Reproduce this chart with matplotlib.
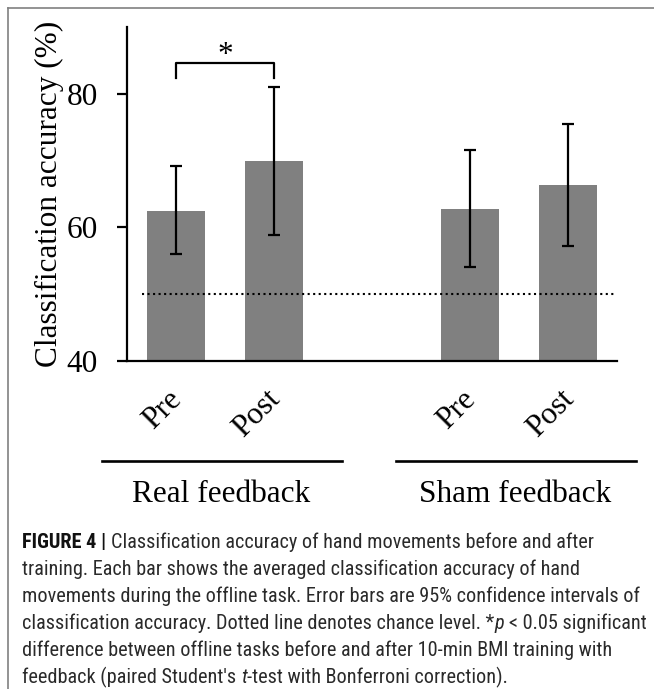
import os
import matplotlib
matplotlib.use('Agg')
import matplotlib.pyplot as plt
import matplotlib.font_manager as fm
from matplotlib.font_manager import FontProperties
from matplotlib.transforms import blended_transform_factory, ScaledTranslation
from matplotlib.lines import Line2D

# ---------------- data ----------------
groups = ['Real feedback', 'Sham feedback']
conditions = ['Pre', 'Post']
means = [62.5, 69.9, 62.8, 66.3]
ci_low = [56.0, 58.8, 54.1, 57.2]
ci_high = [69.2, 81.0, 71.6, 75.4]
chance_level = 50
yticks = [40, 60, 80]
sig_label = '*'
ylabel = 'Classification accuracy (%)'

# caption: each line is a list of (text, style) segments
caption = [
    [('FIGURE 4 | ', 'b'), ('Classification accuracy of hand movements before and after', 'r')],
    [('training. Each bar shows the averaged classification accuracy of hand', 'r')],
    [('movements during the offline task. Error bars are 95% confidence intervals of', 'r')],
    [('classification accuracy. Dotted line denotes chance level. *', 'r'), ('p ', 'i'),
     ('< 0.05 significant', 'r')],
    [('difference between offline tasks before and after 10-min BMI training with', 'r')],
    [("feedback (paired Student's ", 'r'), ('t', 'i'),
     ('-test with Bonferroni correction).', 'r')],
]

# ---------------- fonts ----------------
plt.rcParams['font.family'] = ['Liberation Serif', 'DejaVu Serif']


def wnum(w):
    if isinstance(w, (int, float)):
        return w
    return {'ultralight': 100, 'thin': 100, 'extralight': 200, 'light': 300,
            'normal': 400, 'regular': 400, 'book': 400, 'medium': 500,
            'semibold': 600, 'demibold': 600, 'bold': 700, 'extra bold': 800,
            'heavy': 800, 'black': 900}.get(str(w).lower(), 400)


def rank_of(f):
    n = f.name.lower()
    fn = os.path.basename(f.fname).lower()
    t = (n + ' ' + fn).replace('-', '').replace('_', '')
    if 'mono' in t or 'cjk' in t or 'display' in t:
        return None
    if 'serif' in n and 'sans' not in n:
        return None
    narrow = ('narrow' in t or 'condensed' in t or
              str(f.stretch) in ('condensed', 'semi-condensed', 'extra-condensed',
                                 'ultra-condensed'))
    if not narrow:
        return None
    if 'extracondensed' in t or 'ultracondensed' in t or 'extra-condensed' in str(f.stretch):
        return 7
    if 'semicondensed' in t or str(f.stretch) == 'semi-condensed':
        return 5
    if 'liberation' in t:
        return 0
    if 'roboto' in t:
        return 1
    if 'noto' in t:
        return 2
    if 'open' in t:
        return 3
    return 4


cands = [(rank_of(f), f) for f in fm.fontManager.ttflist]
cands = [(r, f) for r, f in cands if r is not None]


def pick(style, weight):
    if not cands:
        return None
    best = min(cands, key=lambda rf: (rf[0], 0 if rf[1].style == style else 1,
                                      abs(wnum(rf[1].weight) - weight)))
    return best[1].fname


f_reg = pick('normal', 380)
f_bold = pick('normal', 700)
f_ital = pick('italic', 380)


def props(style, size):
    if f_reg is None:
        return FontProperties(family='Roboto', size=size,
                              weight='bold' if style == 'b' else 'normal',
                              style='italic' if style == 'i' else 'normal')
    path = {'r': f_reg, 'b': f_bold, 'i': f_ital}[style]
    return FontProperties(fname=path, size=size)


W, H = 654, 689
fig = plt.figure(figsize=(W / 100, H / 100), dpi=100)
ax = fig.add_axes([127 / W, 1 - 361 / H, 490 / W, (361 - 26.7) / H])

pos = [g * 3 + c for g in range(len(groups)) for c in range(len(conditions))]
yerr = [[m - l for m, l in zip(means, ci_low)], [h - m for m, h in zip(means, ci_high)]]

ax.bar(pos, means, width=0.585, color='#808080', zorder=2)
ax.errorbar(pos, means, yerr=yerr, fmt='none', ecolor='black', elinewidth=1.6,
            capsize=4, capthick=1.6, zorder=3)
ax.plot([-0.35, 4.48], [chance_level, chance_level], ls=':', color='black', lw=1.5, zorder=4)

ax.set_xlim(-0.5, 4.5)
ax.set_ylim(40, 90)
for s in ['top', 'right']:
    ax.spines[s].set_visible(False)
for s in ['left', 'bottom']:
    ax.spines[s].set_linewidth(1.6)

FS = 22.5
ax.set_yticks(yticks)
ax.tick_params(axis='y', direction='out', length=7, width=1.6, pad=14, labelsize=FS)
ax.set_xticks(pos)
ax.set_xticklabels(conditions * len(groups), rotation=45, ha='right', fontsize=FS)
ax.tick_params(axis='x', length=0, pad=17)
off = ScaledTranslation(0.12, 0, fig.dpi_scale_trans)
for lab in ax.get_xticklabels():
    lab.set_transform(lab.get_transform() + off)

ax.set_ylabel(ylabel, fontsize=FS)
ax.yaxis.set_label_coords(-0.1286, 0.5)

# significance bracket
x0, x1 = pos[0], pos[1]
ax.plot([x0, x0, x1, x1], [82.4, 84.5, 84.5, 82.4], color='black', lw=1.6, clip_on=False, zorder=5)
ax.text((x0 + x1) / 2, 84.6, sig_label, ha='center', va='baseline', fontsize=FS)

# group lines and labels
trans = blended_transform_factory(ax.transData, ax.transAxes)
for g, name in enumerate(groups):
    gp = pos[g * len(conditions):(g + 1) * len(conditions)]
    c = sum(gp) / len(gp) - 0.035
    ax.plot([c - 1.225, c + 1.225], [-0.299, -0.299], transform=trans, clip_on=False,
            color='black', lw=1.9)
    ax.text(c, -0.4218, name, transform=trans, ha='center', va='baseline', fontsize=FS)

# ---------------- caption ----------------
renderer = fig.canvas.get_renderer()


def text_w(s, fp):
    t = fig.text(0, 0, s, fontproperties=fp)
    w = t.get_window_extent(renderer).width
    t.remove()
    return w


def adv(s, fp):
    return text_w(s + '|', fp) - text_w('|', fp)


# size chosen so that the widest line spans the same width as in the reference
ref_w = 621.0
s0 = 14.0
line3 = ''.join(seg for seg, _ in caption[2])
cap_size = s0 * ref_w / text_w(line3, props('r', s0))
cap_size = max(10.0, min(15.5, cap_size))

x_start = 22.0
base0 = 548.0
step = 27.0
for i, line in enumerate(caption):
    x = x_start
    yb = 1 - (base0 + i * step) / H
    for seg, st in line:
        fp = props(st, cap_size)
        fig.text(x / W, yb, seg, fontproperties=fp, va='baseline',
                 color='#111111' if st == 'b' else '#2a2a2a')
        x += adv(seg, fp)

# frame
fig.add_artist(Line2D([7.5 / W, 7.5 / W], [0, 1 - 7.5 / H], transform=fig.transFigure,
                      color='#808080', lw=1.2))
fig.add_artist(Line2D([7.5 / W, 1], [1 - 7.5 / H, 1 - 7.5 / H], transform=fig.transFigure,
                      color='#808080', lw=1.2))

fig.savefig('out.png', dpi=100)
